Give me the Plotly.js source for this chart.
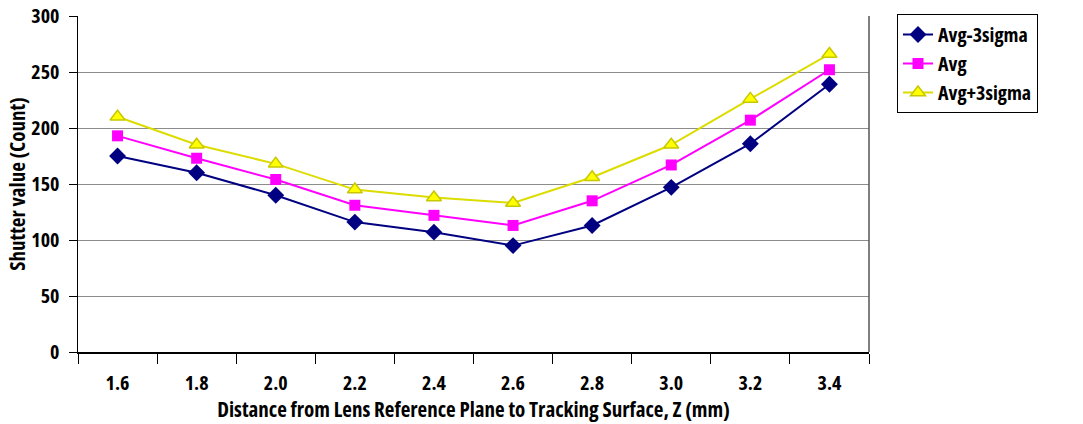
<!DOCTYPE html>
<html>
<head>
<meta charset="utf-8">
<script src="https://cdn.plot.ly/plotly-3.0.1.min.js"></script>
<style>
html,body{margin:0;padding:0;background:#fff;}
#chart{width:1083px;height:424px;}
svg text{font-stretch:condensed;}
</style>
</head>
<body>
<div id="chart"></div>
<script>
const categories = ["1.6","1.8","2.0","2.2","2.4","2.6","2.8","3.0","3.2","3.4"];
const avgMinus3Sigma = [175, 160, 140, 116, 107, 95, 113, 147, 186, 239];
const avg = [193, 173, 154, 131, 122, 113, 135, 167, 207, 252];
const avgPlus3Sigma = [210, 185, 168, 145, 138, 133, 156, 185, 226, 266];
const seriesNames = ["Avg-3sigma", "Avg", "Avg+3sigma"];
const yTicks = [0, 50, 100, 150, 200, 250, 300];

const FONT = '"Open Sans", "Noto Sans", sans-serif';

const traces = [
  {x: categories, y: avgMinus3Sigma, name: seriesNames[0], type: 'scatter', mode: 'lines+markers',
   line: {color: '#000080', width: 2}, marker: {symbol: 'diamond', size: 13, color: '#000080'}},
  {x: categories, y: avg, name: seriesNames[1], type: 'scatter', mode: 'lines+markers',
   line: {color: '#FF00FF', width: 2}, marker: {symbol: 'square', size: 11, color: '#FF00FF'}},
  {x: categories, y: avgPlus3Sigma, name: seriesNames[2], type: 'scatter', mode: 'lines+markers',
   line: {color: '#DCDC00', width: 2}, marker: {symbol: 'triangle-up', size: 13, color: '#FFFF00', line: {color: '#C8C800', width: 1.5}}}
];

const layout = {
  width: 1083, height: 424,
  margin: {l: 78, r: 214, t: 16, b: 72, autoexpand: false},
  paper_bgcolor: '#fff', plot_bgcolor: '#fff',
  font: {family: FONT, color: '#000'},
  showlegend: true,
  legend: {
    xref: 'container', yref: 'container',
    x: 0.8283, y: 0.967, xanchor: 'left', yanchor: 'top',
    bordercolor: '#000', borderwidth: 1,
    font: {family: FONT, size: 20, color: '#000', weight: 'bold'},
    tracegroupgap: 0, entrywidth: 166
  },
  xaxis: {
    type: 'category', tickson: 'boundaries', ticks: 'outside', ticklen: 10, tickcolor: '#000', tickwidth: 1,
    showline: true, linecolor: '#000', linewidth: 1.5, showgrid: false, zeroline: false,
    ticklabelstandoff: 12,
    tickfont: {family: FONT, size: 20, color: '#000', weight: 'bold'},
    title: {text: 'Distance from Lens Reference Plane to Tracking Surface, Z (mm)', standoff: 6,
            font: {family: FONT, size: 21, color: '#000', weight: 'bold'}},
    range: [-0.5, 9.5]
  },
  yaxis: {
    range: [0, 300], tickvals: yTicks, ticks: 'outside', ticklen: 8, tickcolor: '#000',
    showline: true, linecolor: '#000', linewidth: 1.5, showgrid: true, gridcolor: '#8c8c8c', gridwidth: 1,
    zeroline: false, ticklabelstandoff: 5,
    tickfont: {family: FONT, size: 20, color: '#000', weight: 'bold'},
    title: {text: 'Shutter value (Count)', standoff: 0,
            font: {family: FONT, size: 21, color: '#000', weight: 'bold'}}
  },
  shapes: [
    {type: 'line', xref: 'paper', yref: 'paper', x0: 1, x1: 1, y0: 0, y1: 1, line: {color: '#555', width: 1.5}}
  ]
};

Plotly.newPlot('chart', traces, layout, {displayModeBar: false, staticPlot: true}).then(function () {
  // place the legend box where the reference has it (left edge ~897px, top ~14px)
  const lg = document.querySelector('#chart .legend');
  if (lg) {
    const bg = lg.querySelector('rect.bg');
    const w = bg ? parseFloat(bg.getAttribute('width')) || 0 : 0;
    let lx = 897;
    if (lx + w > 1082) lx = 1082 - w;
    lg.setAttribute('transform', 'translate(' + lx + ',14)');
  }
});
</script>
</body>
</html>
